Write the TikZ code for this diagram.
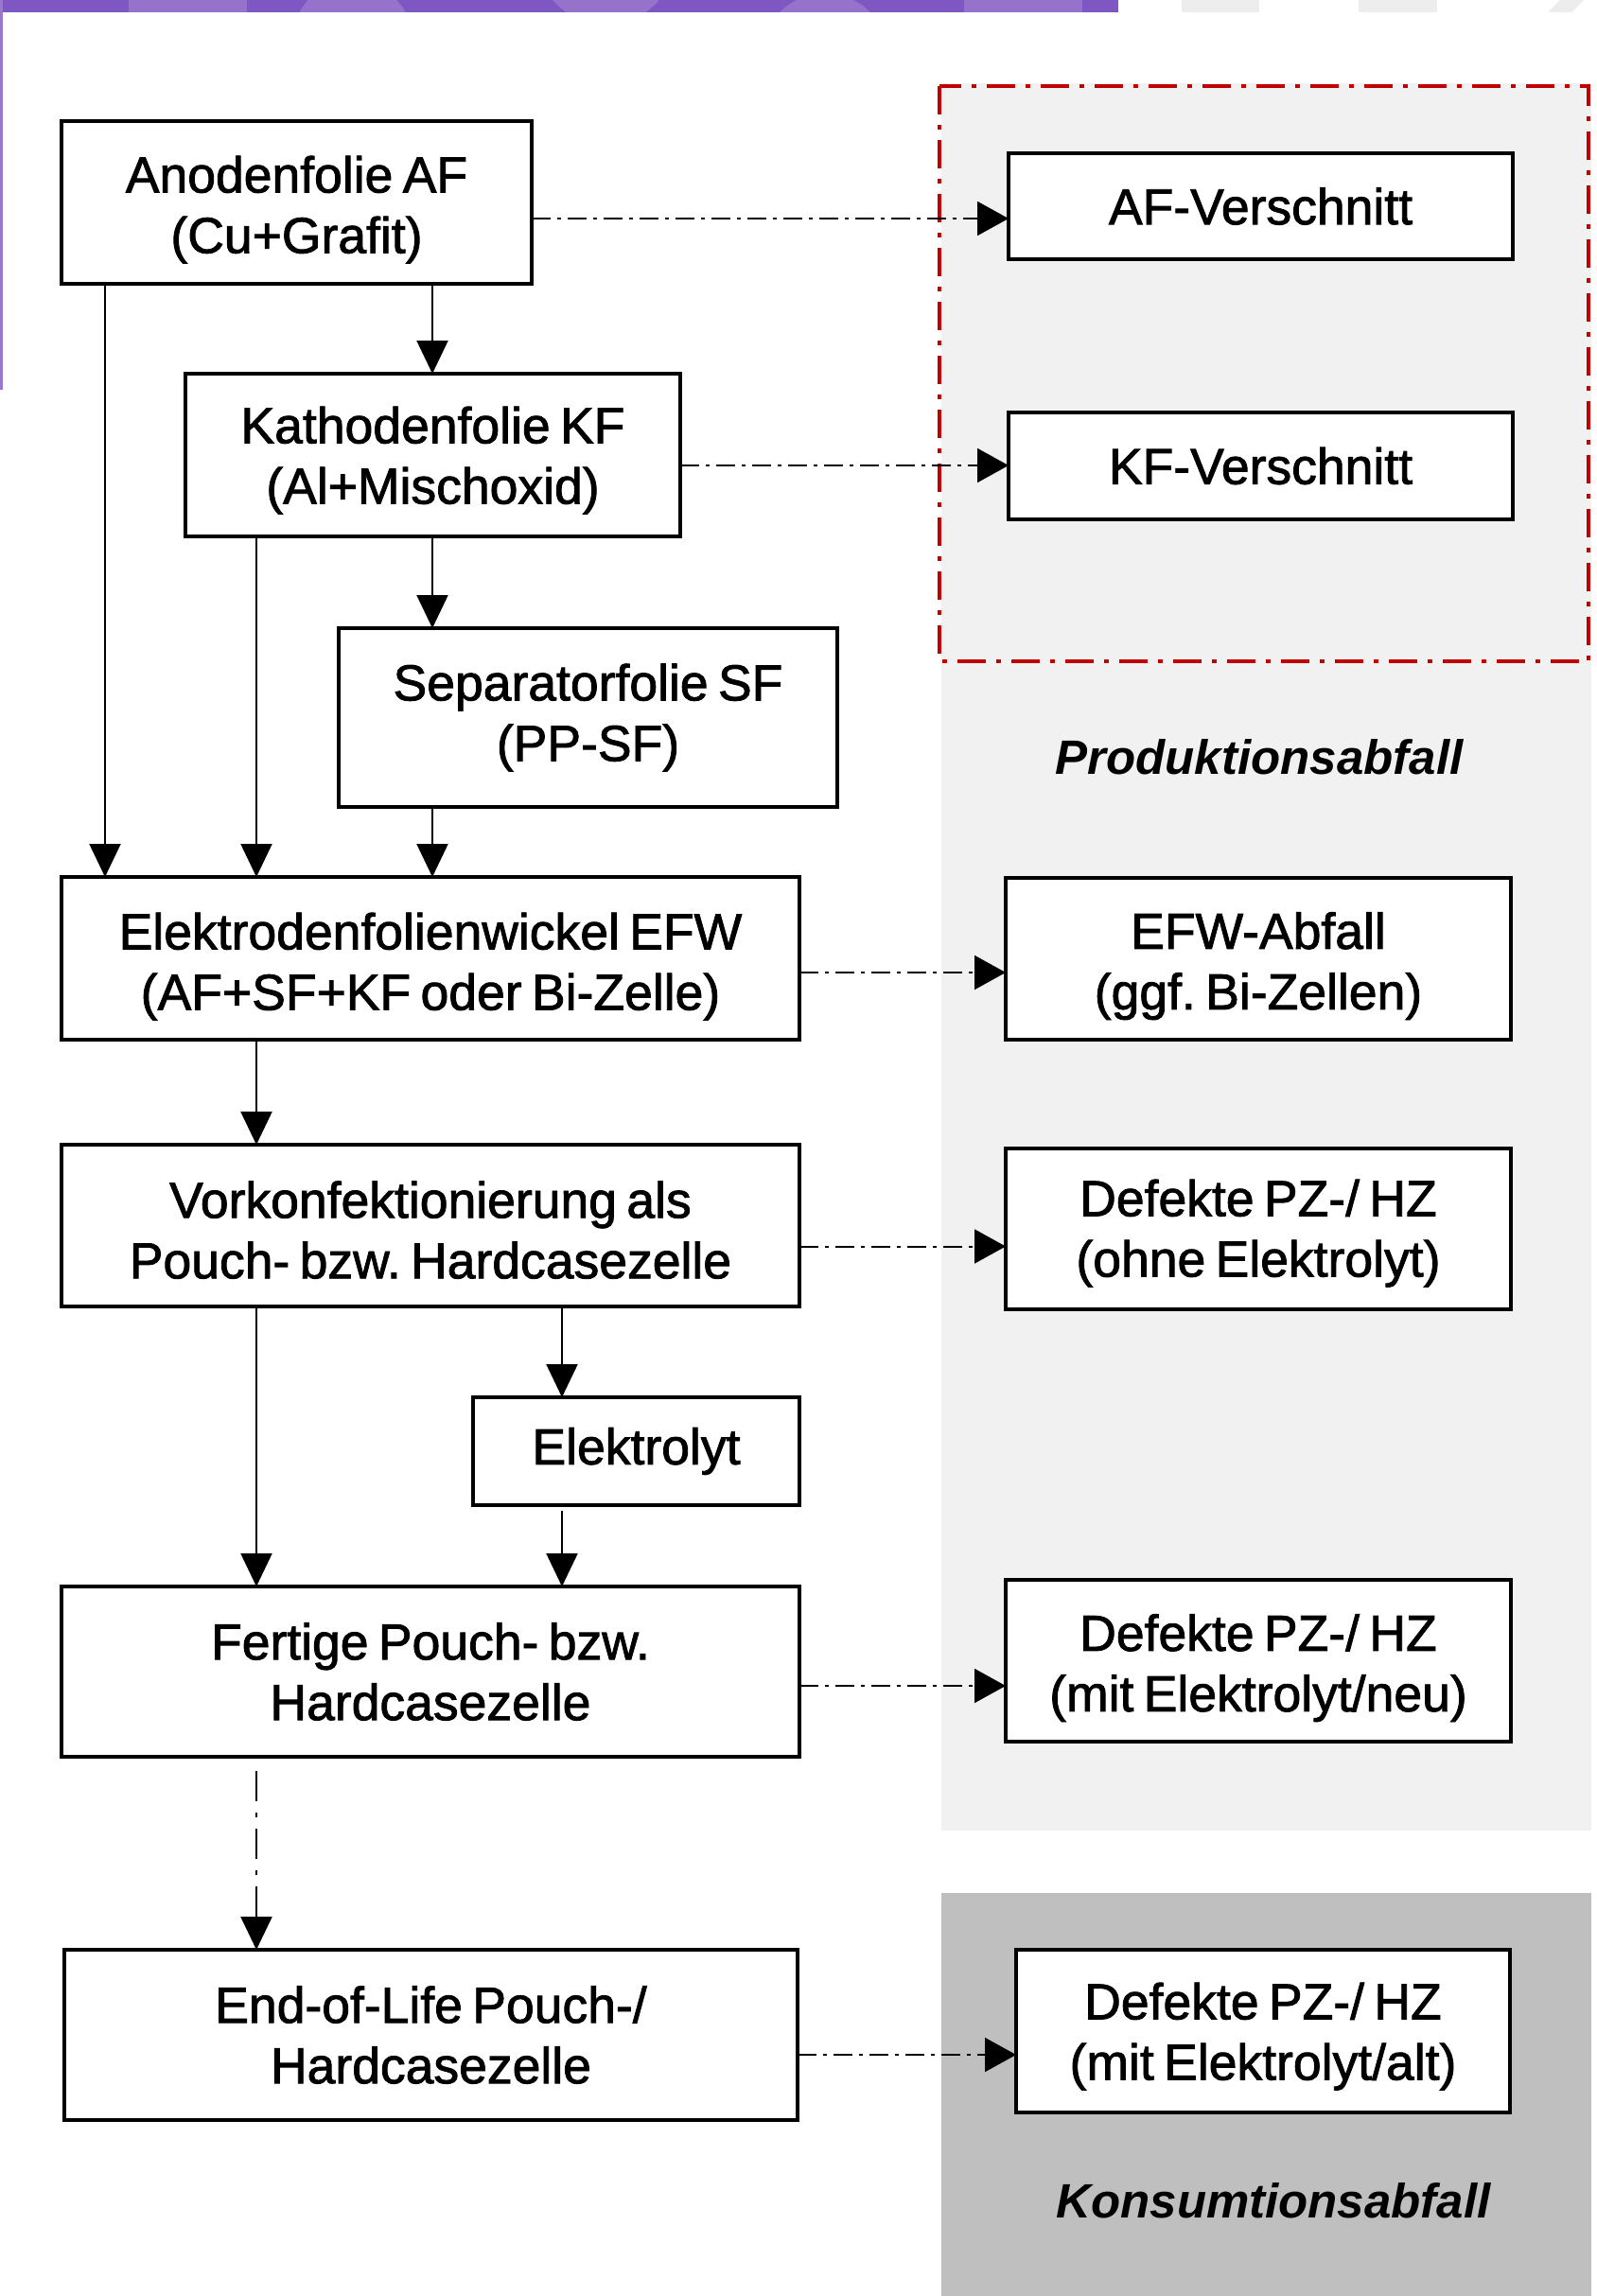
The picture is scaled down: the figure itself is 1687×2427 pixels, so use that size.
\documentclass[tikz,border=0pt]{standalone}
\usepackage{fontspec}
\setmainfont{Liberation Sans}
\newfontfamily\boxfont[FakeBold=1.6, WordSpace=0.7]{Liberation Sans}
\usetikzlibrary{arrows.meta,calc}
\definecolor{purpleA}{HTML}{7E57C2}
\definecolor{purpleB}{HTML}{9673CB}
\definecolor{purpleL}{HTML}{9A78CE}
\definecolor{topgray}{HTML}{EDEDED}
\definecolor{prodgray}{HTML}{F1F1F1}
\definecolor{konsgray}{HTML}{BFBFBF}
\definecolor{redline}{HTML}{C00000}
\newcommand\tpad[1]{\rule{0pt}{#1}}
\begin{document}
\frenchspacing
\begin{tikzpicture}[x=1pt,y=-1pt,
  box/.style={draw=black, line width=3.5pt, fill=white, align=center, inner sep=0pt, outer sep=0pt,
    font=\boxfont\fontsize{53.5}{64}\selectfont\frenchspacing},
  flow/.style={line width=2.2pt, -{Triangle[length=35pt,width=33pt]}},
  waste/.style={line width=2pt, dash pattern=on 20pt off 7pt on 4pt off 7pt, -{Triangle[length=33pt,width=36pt]}},
  vdash/.style={line width=2.4pt, dash pattern=on 32pt off 12pt on 5pt off 12pt, -{Triangle[length=35pt,width=33pt]}},
  zone/.style={font=\fontsize{51}{64}\selectfont\bfseries\itshape}
]
\useasboundingbox (0,0) rectangle (1687,2427);
\fill[white] (0,0) rectangle (1687,2427);

% header strip
\fill[purpleA] (0,0) rectangle (1182,13);
\begin{scope}
  \clip (0,0) rectangle (1182,13);
  \fill[purpleB] (136,0) rectangle (261,13);
  \fill[purpleB] (372.5,42) circle (63pt);
  \fill[purpleB] (640.5,-48) circle (74pt);
  \fill[purpleB] (872,60.5) circle (67.5pt);
  \fill[purpleB] (1019,0) rectangle (1144,13);
\end{scope}
\fill[topgray] (1249,0) rectangle (1331,13);
\fill[topgray] (1436,0) rectangle (1519,13);
\fill[topgray] (1636,13) -- (1649,0) -- (1674,0) -- (1661,13) -- cycle;
\fill[purpleL] (0,0) rectangle (3,412);

% waste zones
\fill[prodgray] (995,88) rectangle (1682,1935);
\fill[konsgray] (995,2001) rectangle (1682,2427);
\draw[redline, line width=4.5pt, dash pattern=on 30pt off 11pt on 5pt off 11pt] (993,91) rectangle (1679,699);

\node[zone] (prod) at (1331,800) {Produktionsabfall};
\node[zone] (kons) at (1346,2326) {Konsumtionsabfall};

% main chain
\node[box, minimum width=497pt, minimum height=172pt] (AF) at (313.5,214) {\tpad{54pt}Anodenfolie AF\\(Cu+Grafit)};
\node[box, minimum width=523pt, minimum height=172pt] (KF) at (457.5,481) {\tpad{50pt}Kathodenfolie KF\\(Al+Mischoxid)};
\node[box, minimum width=527pt, minimum height=189pt] (SF) at (621.5,758.5) {Separatorfolie SF\\(PP-SF)};
\node[box, minimum width=780pt, minimum height=172pt] (EFW) at (455,1013) {\tpad{56pt}Elektrodenfolienwickel EFW\\(AF+SF+KF oder Bi-Zelle)};
\node[box, minimum width=780pt, minimum height=171pt] (VK) at (455,1295.5) {\tpad{48pt}Vorkonfektionierung als\\Pouch- bzw. Hardcasezelle};
\node[box, minimum width=345pt, minimum height=114pt] (EL) at (672.5,1534) {Elektrolyt};
\node[box, minimum width=780pt, minimum height=180pt] (FZ) at (455,1767) {Fertige Pouch- bzw.\\Hardcasezelle};
\node[box, minimum width=775pt, minimum height=180pt] (EOL) at (455.5,2151) {End-of-Life Pouch-/\\Hardcasezelle};

% waste boxes
\node[box, minimum width=533pt, minimum height=112pt] (AFV) at (1332.5,218) {AF-Verschnitt};
\node[box, minimum width=533pt, minimum height=113pt] (KFV) at (1332.5,492.5) {KF-Verschnitt};
\node[box, minimum width=534pt, minimum height=171pt] (EFWA) at (1330,1013.5) {\tpad{54pt}EFW-Abfall\\(ggf. Bi-Zellen)};
\node[box, minimum width=534pt, minimum height=170pt] (DO) at (1330,1299) {\tpad{48pt}Defekte PZ-/ HZ\\(ohne Elektrolyt)};
\node[box, minimum width=534pt, minimum height=171pt] (DN) at (1330,1755.5) {\tpad{54pt}Defekte PZ-/ HZ\\(mit Elektrolyt/neu)};
\node[box, minimum width=522pt, minimum height=172pt] (DA) at (1335,2147) {\tpad{50pt}Defekte PZ-/ HZ\\(mit Elektrolyt/alt)};

% columns for vertical connectors
\coordinate (xA) at (111,0);
\coordinate (xB) at (271,0);
\coordinate (xC) at (457,0);
\coordinate (xD) at (594,0);

\draw[flow] (xA |- AF.south) -- (xA |- EFW.north);
\draw[flow] (xC |- AF.south) -- (xC |- KF.north);
\draw[flow] (xB |- KF.south) -- (xB |- EFW.north);
\draw[flow] (xC |- KF.south) -- (xC |- SF.north);
\draw[flow] (xC |- SF.south) -- (xC |- EFW.north);
\draw[flow] (xB |- EFW.south) -- (xB |- VK.north);
\draw[flow] (xB |- VK.south) -- (xB |- FZ.north);
\draw[flow] (xD |- VK.south) -- (xD |- EL.north);
\draw[flow, shorten <=6pt] (xD |- EL.south) -- (xD |- FZ.north);
\draw[vdash, shorten <=15pt] (xB |- FZ.south) -- (xB |- EOL.north);

% waste connectors
\coordinate (w1) at ([yshift=-17pt]AF.east);
\coordinate (w2) at ([yshift=-11pt]KF.east);
\coordinate (w3) at ([yshift=-15pt]EFW.east);
\coordinate (w4) at ([yshift=-22pt]VK.east);
\coordinate (w5) at ([yshift=-15pt]FZ.east);
\coordinate (w6) at ([yshift=-21pt]EOL.east);
\draw[waste] (w1) -- (w1 -| AFV.west);
\draw[waste] (w2) -- (w2 -| KFV.west);
\draw[waste] (w3) -- (w3 -| EFWA.west);
\draw[waste] (w4) -- (w4 -| DO.west);
\draw[waste] (w5) -- (w5 -| DN.west);
\draw[waste] (w6) -- (w6 -| DA.west);
\end{tikzpicture}
\end{document}
